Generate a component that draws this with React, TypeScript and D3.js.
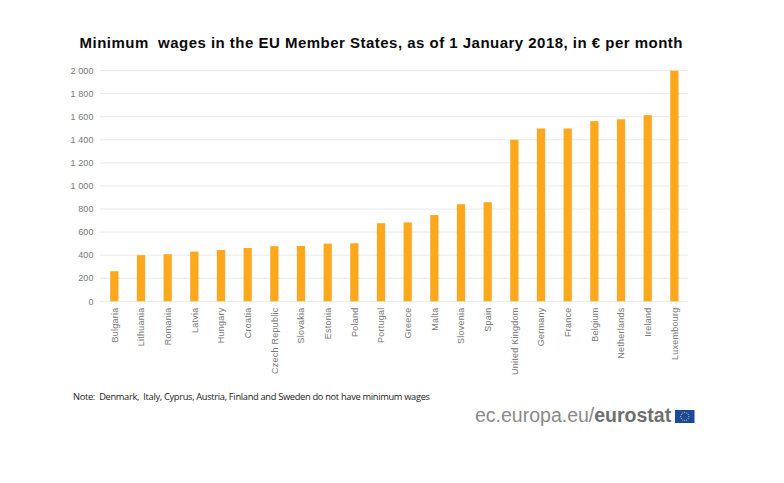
import React from "react";
import * as d3 from "d3";

const countries = ["Bulgaria","Lithuania","Romania","Latvia","Hungary","Croatia","Czech Republic","Slovakia","Estonia","Poland","Portugal","Greece","Malta","Slovenia","Spain","United Kingdom","Germany","France","Belgium","Netherlands","Ireland","Luxembourg"];
const wages = [261,400,408,431,445,462,478,480,500,503,677,684,748,842,859,1401,1498,1498,1562,1578,1614,1999];
const ticks = [0,200,400,600,800,1000,1200,1400,1600,1800,2000];
const tickLabels = ["0","200","400","600","800","1 000","1 200","1 400","1 600","1 800","2 000"];
const titleText = "Minimum  wages in the EU Member States, as of 1 January 2018, in € per month";
const noteText = "Note:  Denmark,  Italy, Cyprus, Austria, Finland and Sweden do not have minimum wages";

const W = 784, H = 483;
const x = d3.scaleBand<string>().domain(countries).range([101, 687.7]).paddingInner(0.69).paddingOuter(0.345);
const y = d3.scaleLinear().domain([0, 2000]).range([301.3, 70.6]);
const sans = "'Liberation Sans', Arial, sans-serif";

export default function App() {
  return (
    <svg width={W} height={H} viewBox={`0 0 ${W} ${H}`} style={{ position: "absolute", left: 0, top: 0, background: "#fff" }}>
      <text x={381} y={48} textAnchor="middle" fontFamily={sans} fontWeight="bold" fontSize={15} fill="#0a0a0a" textLength={603} lengthAdjust="spacing" style={{ whiteSpace: "pre" }}>{titleText}</text>
      {ticks.map((t, i) => (
        <g key={t}>
          <line x1={100} x2={687.7} y1={y(t)} y2={y(t)} stroke="#e8e8e8" strokeWidth={1} />
          <text x={93.5} y={y(t) + 3.2} textAnchor="end" fontFamily={sans} fontSize={9} letterSpacing={0.1} fill="#777">{tickLabels[i]}</text>
        </g>
      ))}
      {countries.map((c, i) => (
        <rect key={c} x={x(c)} y={y(wages[i])} width={x.bandwidth()} height={y(0) - y(wages[i])} fill="#ffa81e" />
      ))}
      {countries.map(c => {
        const cx = (x(c) as number) + x.bandwidth() / 2;
        return (
          <text key={c} transform={`translate(${cx + 3.2},307.5) rotate(-90)`} textAnchor="end" fontFamily={sans} fontSize={9} letterSpacing={0.25} fill="#777">{c}</text>
        );
      })}
      <text x={73} y={400} fontFamily="'Open Sans', 'Noto Sans', sans-serif" fontSize={9.3} fill="#222" textLength={357} lengthAdjust="spacing" style={{ whiteSpace: "pre" }}>{noteText}</text>
      <text x={475} y={422} fontFamily={sans} fontSize={19.5} fill="#8a8a8a">ec.europa.eu/<tspan fontWeight="bold" fill="#6f6f6f">eurostat</tspan></text>
      <rect x={675} y={410} width={19.5} height={13} fill="#1b4a9c" />
      {d3.range(12).map(k => {
        const a = (k / 12) * 2 * Math.PI;
        return <circle key={k} cx={684.75 + 4 * Math.cos(a)} cy={416.5 + 4 * Math.sin(a)} r={0.55} fill="#f4d93a" />;
      })}
    </svg>
  );
}
